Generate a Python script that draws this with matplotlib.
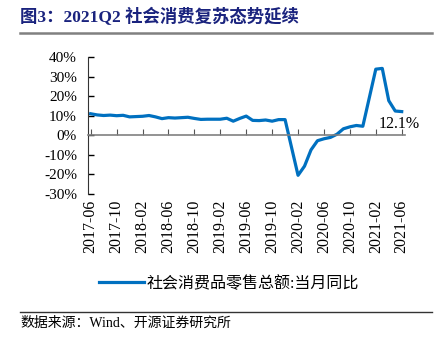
import matplotlib.pyplot as plt
from matplotlib.lines import Line2D
from matplotlib.ticker import FuncFormatter

plt.rcParams['font.family'] = ['Liberation Serif', 'Noto Sans CJK SC']
plt.rcParams['axes.unicode_minus'] = False

# monthly retail sales yoy (%), January folded into February
months = ['2017-06', '2017-07', '2017-08', '2017-09', '2017-10', '2017-11', '2017-12',
          '2018-02', '2018-03', '2018-04', '2018-05', '2018-06', '2018-07', '2018-08',
          '2018-09', '2018-10', '2018-11', '2018-12',
          '2019-02', '2019-03', '2019-04', '2019-05', '2019-06', '2019-07', '2019-08',
          '2019-09', '2019-10', '2019-11', '2019-12',
          '2020-02', '2020-03', '2020-04', '2020-05', '2020-06', '2020-07', '2020-08',
          '2020-09', '2020-10', '2020-11', '2020-12',
          '2021-02', '2021-03', '2021-04', '2021-05', '2021-06']
retail_yoy = [11.0, 10.4, 10.1, 10.3, 10.0, 10.2, 9.4,
              9.7, 10.1, 9.4, 8.5, 9.0, 8.8, 9.0, 9.2, 8.6, 8.1, 8.2,
              8.2, 8.7, 7.2, 8.6, 9.8, 7.6, 7.5, 7.8, 7.2, 8.0, 8.0,
              -20.5, -15.8, -7.5, -2.8, -1.8, -1.1, 0.5, 3.3, 4.3, 5.0, 4.6,
              33.8, 34.2, 17.7, 12.4, 12.1]
tick_labels = ['2017-06', '2017-10', '2018-02', '2018-06', '2018-10', '2019-02', '2019-06',
               '2019-10', '2020-02', '2020-06', '2020-10', '2021-02', '2021-06']
yticks = [-30, -20, -10, 0, 10, 20, 30, 40]


def month_index(s):
    y, m = s.split('-')
    return (int(y) - 2017) * 12 + int(m) - 6


x = [month_index(m) for m in months]
tick_pos = [month_index(t) for t in tick_labels]

blue = '#0070C0'
fig = plt.figure(figsize=(4.45, 3.5), dpi=100)
ax = fig.add_axes([0.198, 0.446, 0.712, 0.391])

ax.plot(x, retail_yoy, color=blue, lw=2.3)
ax.annotate(f'{retail_yoy[-1]}%', xy=(x[-1], retail_yoy[-1]), xytext=(-2, -3),
            textcoords='offset points', ha='center', va='top', fontsize=11.5)

ax.set_xlim(-0.4, 48.5)
ax.set_ylim(-30, 40)
ax.set_yticks(yticks)
ax.yaxis.set_major_formatter(FuncFormatter(lambda v, p: f'{v:.0f}%'))
ax.tick_params(axis='y', direction='in', length=4, width=1, labelsize=11, pad=8)

ax.spines['top'].set_visible(False)
ax.spines['right'].set_visible(False)
ax.spines['left'].set_color('#333333')
ax.spines['bottom'].set_position(('data', 0))
ax.spines['bottom'].set_color('#808080')
ax.spines['bottom'].set_linewidth(1.2)
ax.set_xticks(tick_pos)
ax.tick_params(axis='x', direction='in', length=4, color='#555555', labelbottom=False)

sec = ax.secondary_xaxis('bottom')
sec.set_xticks(tick_pos, tick_labels, rotation=90)
sec.tick_params(length=0, labelsize=11.5, pad=4)
sec.spines['bottom'].set_visible(False)

# legend
h = Line2D([], [], color=blue, lw=2.3)
fig.legend([h], ['社会消费品零售总额:当月同比'], loc='center', bbox_to_anchor=(0.515, 0.189),
           frameon=False, fontsize=11.5, handlelength=2.8, handletextpad=0.2)

# title and source
fig.text(0.045, 0.951, '图3：2021Q2 社会消费复苏态势延续', fontsize=12.5, fontweight='bold',
         color='#1a237e', va='center')
fig.add_artist(Line2D([0.045, 0.971], [0.906, 0.906], color='#808080', lw=1.8))
fig.add_artist(Line2D([0.045, 0.971], [0.109, 0.109], color='#333333', lw=1.0))
fig.text(0.045, 0.077, '数据来源：Wind、开源证券研究所', fontsize=10, va='center')

fig.savefig('out.png', dpi=100)
